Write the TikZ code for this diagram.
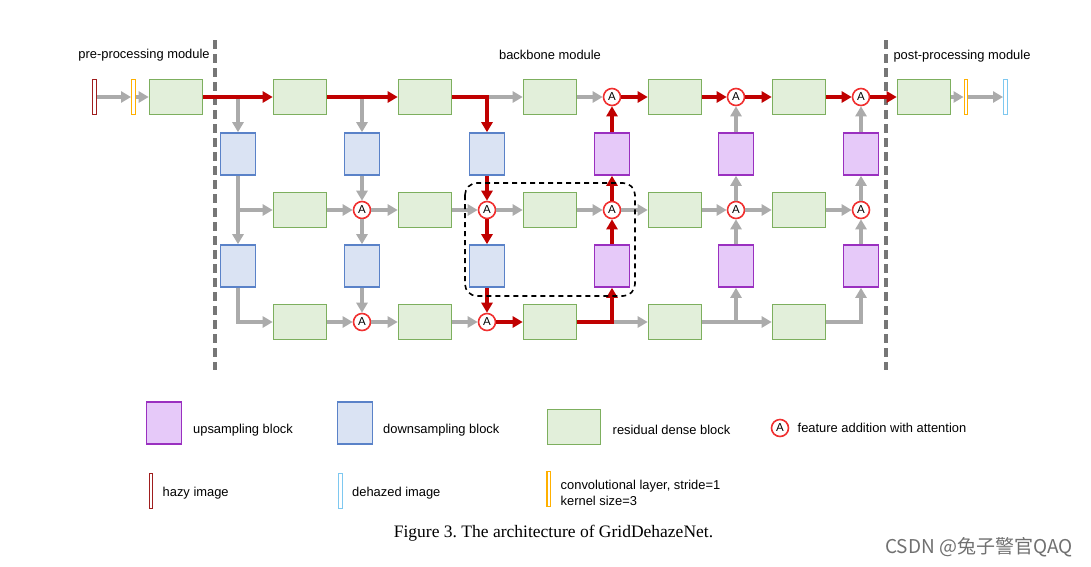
\documentclass[tikz,border=0pt]{standalone}
\usepackage{fontspec}
\setmainfont{Liberation Sans}
\newfontfamily\capfont{Liberation Serif}
\newfontfamily\cjkfont{Noto Sans CJK SC}
\usetikzlibrary{arrows.meta}
\definecolor{rdbfill}{HTML}{E2EFDA}
\definecolor{rdbedge}{HTML}{7DAF5E}
\definecolor{downfill}{HTML}{DAE3F3}
\definecolor{downedge}{HTML}{5A82C8}
\definecolor{upfill}{HTML}{E6C9F9}
\definecolor{upedge}{HTML}{9A30C0}
\definecolor{attred}{HTML}{F03030}
\definecolor{flowred}{HTML}{C00000}
\definecolor{flowgray}{HTML}{ABABAB}
\definecolor{hazyred}{HTML}{A01E1E}
\definecolor{convorange}{HTML}{FFB000}
\definecolor{dehazeblue}{HTML}{7EC8F0}
\definecolor{modgray}{HTML}{767676}
\definecolor{markgray}{HTML}{707070}
\tikzstyle{rdb} = [rectangle, minimum width=53pt, minimum height=35pt, inner sep=0pt, draw=rdbedge, fill=rdbfill, line width=1.6pt]
\tikzstyle{downblock} = [rectangle, minimum width=35pt, minimum height=42pt, inner sep=0pt, draw=downedge, fill=downfill, line width=1.6pt]
\tikzstyle{upblock} = [rectangle, minimum width=35pt, minimum height=42pt, inner sep=0pt, draw=upedge, fill=upfill, line width=1.6pt]
\tikzstyle{att} = [circle, minimum size=17pt, inner sep=0pt, draw=attred, fill=white, line width=1.6pt, font=\fontsize{11.5}{11.5}\selectfont]
\tikzstyle{bar} = [rectangle, minimum width=3.5pt, minimum height=35pt, inner sep=0pt, fill=white, line width=1.4pt]
\tikzstyle{garrow} = [line width=3.8pt, draw=flowgray, -{Triangle[length=10pt,width=11pt]}]
\tikzstyle{rarrow} = [line width=3.8pt, draw=flowred, -{Triangle[length=10pt,width=11pt]}]
\tikzstyle{modline} = [line width=3.2pt, draw=modgray, dash pattern=on 9pt off 5pt]
\tikzstyle{legtext} = [font=\fontsize{12.9}{15.5}\selectfont, anchor=west, inner sep=0pt, align=left]

\begin{document}
\begin{tikzpicture}[x=1pt, y=-1pt]
\useasboundingbox (0,0) rectangle (1091,566);

% module borders
\draw [modline] (215,40) -- (215,370);
\draw [modline] (886,40) -- (886,370);
\node (premod) [legtext, anchor=center] at (144,55) {pre-processing module};
\node (backmod) [legtext, anchor=center] at (550,55) {backbone module};
\node (postmod) [legtext, anchor=center] at (962,56) {post-processing module};

% pre / post processing
\node (hazy) [bar, draw=hazyred] at (94.5,97) {};
\node (conv1) [bar, draw=convorange] at (133.5,97) {};
\node (pre) [rdb] at (176,97) {};
\node (post) [rdb] at (924,97) {};
\node (conv2) [bar, draw=convorange] at (966,97) {};
\node (dehazed) [bar, draw=dehazeblue] at (1005.5,97) {};

% row 1
\node (rdb11) [rdb] at (300,97) {};
\node (rdb12) [rdb] at (425,97) {};
\node (rdb13) [rdb] at (550,97) {};
\node (att13) [att] at (612,97) {A};
\node (rdb14) [rdb] at (675,97) {};
\node (att14) [att] at (736,97) {A};
\node (rdb15) [rdb] at (799,97) {};
\node (att15) [att] at (861,97) {A};

\node (ds10) [downblock] at (238,154) {};
\node (ds11) [downblock] at (362,154) {};
\node (ds12) [downblock] at (487,154) {};
\node (us13) [upblock] at (612,154) {};
\node (us14) [upblock] at (736,154) {};
\node (us15) [upblock] at (861,154) {};

% row 2
\node (rdb21) [rdb] at (300,210) {};
\node (att21) [att] at (362,210) {A};
\node (rdb22) [rdb] at (425,210) {};
\node (att22) [att] at (487,210) {A};
\node (rdb23) [rdb] at (550,210) {};
\node (att23) [att] at (612,210) {A};
\node (rdb24) [rdb] at (675,210) {};
\node (att24) [att] at (736,210) {A};
\node (rdb25) [rdb] at (799,210) {};
\node (att25) [att] at (861,210) {A};

\node (ds20) [downblock] at (238,266) {};
\node (ds21) [downblock] at (362,266) {};
\node (ds22) [downblock] at (487,266) {};
\node (us23) [upblock] at (612,266) {};
\node (us24) [upblock] at (736,266) {};
\node (us25) [upblock] at (861,266) {};

% row 3
\node (rdb31) [rdb] at (300,322) {};
\node (att31) [att] at (362,322) {A};
\node (rdb32) [rdb] at (425,322) {};
\node (att32) [att] at (487,322) {A};
\node (rdb33) [rdb] at (550,322) {};
\node (rdb34) [rdb] at (675,322) {};
\node (rdb35) [rdb] at (799,322) {};

% gray flow
\draw [garrow] (hazy) -- (conv1);
\draw [garrow] (conv1) -- (pre);
\draw [garrow] (pre.east -| ds10) -- (ds10);
\draw [garrow] (rdb11.east -| ds11) -- (ds11);
\draw [garrow] (rdb12.east -| ds12) -- (rdb13);
\draw [garrow] (rdb13) -- (att13);
\draw [garrow] (us14) -- (att14);
\draw [garrow] (us15) -- (att15);
\draw [garrow] (post) -- (conv2);
\draw [garrow] (conv2) -- (dehazed);

\draw [garrow] (ds10) -- (ds20);
\draw [garrow] (rdb21.west -| ds10) -- (rdb21);
\draw [garrow] (rdb21) -- (att21);
\draw [garrow] (ds11) -- (att21);
\draw [garrow] (att21) -- (ds21);
\draw [garrow] (att21) -- (rdb22);
\draw [garrow] (rdb22) -- (att22);
\draw [garrow] (att22) -- (rdb23);
\draw [garrow] (rdb23) -- (att23);
\draw [garrow] (att23) -- (rdb24);
\draw [garrow] (rdb24) -- (att24);
\draw [garrow] (us24) -- (att24);
\draw [garrow] (att24) -- (us14);
\draw [garrow] (att24) -- (rdb25);
\draw [garrow] (rdb25) -- (att25);
\draw [garrow] (us25) -- (att25);
\draw [garrow] (att25) -- (us15);

\draw [garrow] (ds20) |- (rdb31);
\draw [garrow] (rdb31) -- (att31);
\draw [garrow] (ds21) -- (att31);
\draw [garrow] (att31) -- (rdb32);
\draw [garrow] (rdb32) -- (att32);
\draw [garrow] (rdb33) -- (rdb34);
\draw [garrow] (rdb34) -- (rdb35);
\draw [garrow] (rdb34.east -| us24) -- (us24);
\draw [garrow] (rdb35) -| (us25);

% red flow
\draw [rarrow] (pre) -- (rdb11);
\draw [rarrow] (rdb11) -- (rdb12);
\draw [rarrow] (rdb12) -| (ds12);
\draw [rarrow] (us13) -- (att13);
\draw [rarrow] (att13) -- (rdb14);
\draw [rarrow] (rdb14) -- (att14);
\draw [rarrow] (att14) -- (rdb15);
\draw [rarrow] (rdb15) -- (att15);
\draw [rarrow] (att15) -- (post);
\draw [rarrow] (ds12) -- (att22);
\draw [rarrow] (att22) -- (ds22);
\draw [rarrow] (ds22) -- (att32);
\draw [rarrow] (att32) -- (rdb33);
\draw [rarrow] (rdb33) -| (us23);
\draw [rarrow] (us23) -- (att23);
\draw [rarrow] (att23) -- (us13);

% highlighted unit
\draw [line width=1.6pt, dash pattern=on 5pt off 4pt, rounded corners=12pt] (465,183) rectangle (635,296);

% legend
\node (lgup) [upblock] at (164,423) {};
\node (lguptext) [legtext] at (193,430) {upsampling block};
\node (lgdown) [downblock] at (355,423) {};
\node (lgdowntext) [legtext] at (383,430) {downsampling block};
\node (lgrdb) [rdb] at (574,427) {};
\node (lgrdbtext) [legtext] at (612.5,430) {residual dense block};
\node (lgatt) [att] at (780,428) {A};
\node (lgatttext) [legtext] at (797.5,428) {feature addition with attention};
\node (lghazy) [bar, draw=hazyred] at (151,491) {};
\node (lghazytext) [legtext] at (162.5,493) {hazy image};
\node (lgdehazed) [bar, draw=dehazeblue] at (340.5,491) {};
\node (lgdehazedtext) [legtext] at (352,493) {dehazed image};
\node (lgconv) [bar, draw=convorange] at (548.7,489) {};
\node (lgconvtext) [legtext] at (560.5,493) {convolutional layer, stride=1\\kernel size=3};

% caption
\node (caption) [font=\capfont\fontsize{17.5}{20}\selectfont] at (553.5,533) {Figure 3.\ The architecture of GridDehazeNet.};
\node (mark) [anchor=east, text=markgray, font=\cjkfont\fontsize{19}{22}\selectfont] at (1076,547) {CSDN @兔子警官QAQ};

\end{tikzpicture}
\end{document}
